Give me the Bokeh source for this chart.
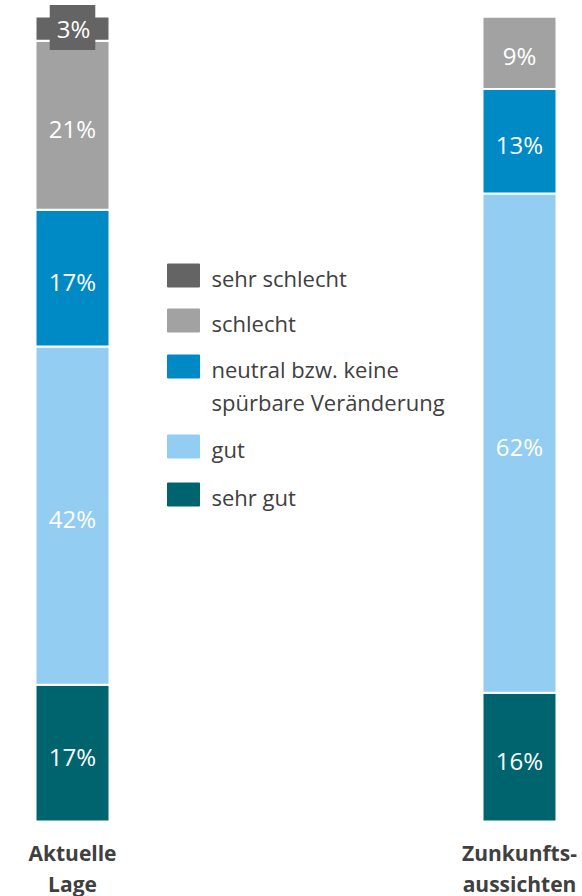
from bokeh.plotting import figure
from bokeh.models import ColumnDataSource, Range1d
from bokeh.core.properties import value
from bokeh.embed import file_html
from bokeh.resources import INLINE

# ---- data ----
categories = ["Aktuelle\nLage", "Zunkunfts-\naussichten"]
series = ["sehr gut", "gut", "neutral bzw. keine\nspürbare Veränderung", "schlecht", "sehr schlecht"]
sehr_gut = [17, 16]
gut = [42, 62]
neutral = [17, 13]
schlecht = [21, 9]
sehr_schlecht = [3, 0]
colors = ["#00646f", "#93cdf1", "#008ac5", "#a2a2a2", "#646464"]

FONT = "Open Sans"
W, H = 582, 896
# layout: pixel scale of the frame
PXX = 447.0     # pixels per category step
X0 = 72.0       # pixel of category 0 inside the frame
PXY = 8.05      # pixels per percent
YB = 821.0      # pixel (from top of frame) of value 0

def fx(px):  # frame pixel -> data x
    return (px - X0) / PXX

def fy(py):  # frame pixel (from top) -> data y
    return (YB - py) / PXY

p = figure(width=W, height=H, output_backend="svg", toolbar_location=None,
           x_range=Range1d(fx(0), fx(W)), y_range=Range1d(fy(H), fy(0)),
           min_border=0, min_border_left=0, min_border_right=0,
           min_border_top=0, min_border_bottom=0)
p.axis.visible = False
p.xgrid.visible = False
p.ygrid.visible = False
p.outline_line_color = None
p.background_fill_color = "white"
p.border_fill_color = "white"

keys = ["sehr_gut", "gut", "neutral", "schlecht", "sehr_schlecht"]
vals = [sehr_gut, gut, neutral, schlecht, sehr_schlecht]
src = ColumnDataSource(dict(x=list(range(len(categories))),
                            **{k: v for k, v in zip(keys, vals)}))
p.vbar_stack(keys, x="x", width=74 / PXX, source=src, color=colors,
             line_color="white", line_width=2)

# value labels
lx, ly, lt, sx, sy, st = [], [], [], [], [], []
for i in range(len(categories)):
    base = 0
    for v in vals:
        val = v[i]
        if val > 0:
            mid = base + val / 2
            if val < 5:
                sx.append(i); sy.append(mid); st.append(f"{val}%")
            else:
                lx.append(i); ly.append(mid); lt.append(f"{val}%")
        base += val
p.text(x=lx, y=ly, text=lt, text_align="center", text_baseline="middle",
       text_font=value(FONT), text_font_size="24px", text_color="white", y_offset=3)
p.text(x=sx, y=sy, text=st, text_align="center", text_baseline="middle",
       text_font=value(FONT), text_font_size="24px", text_color="white", y_offset=-1,
       background_fill_color="#646464", padding=[7, 5, 7, 5])

# category labels
cx, cy, ct, co = [], [], [], []
for i, c in enumerate(categories):
    for j, line in enumerate(c.split("\n")):
        cx.append(i); cy.append(0); ct.append(line); co.append(31 + j * 31)
p.text(x=cx, y=cy, text=ct, y_offset=co, text_align="center", text_baseline="middle",
       text_font=value(FONT), text_font_size="21px", text_font_style="bold",
       text_color="#404040")

# legend (top to bottom: reversed series)
leg_py = [275, 320, 366, 446, 494]
leg_series = series[::-1]
leg_colors = colors[::-1]
p.rect(x=[fx(183)] * 5, y=[fy(v) for v in leg_py], width=32, height=23,
       width_units="screen", height_units="screen", color=leg_colors)
tx, ty, tt = [], [], []
for py, s in zip(leg_py, leg_series):
    for j, line in enumerate(s.split("\n")):
        tx.append(fx(211)); ty.append(fy(py + 2 + j * 33)); tt.append(line)
p.text(x=tx, y=ty, text=tt, text_align="left", text_baseline="middle",
       text_font=value(FONT), text_font_size="22px", text_color="#404040")

open("out.html", "w").write(file_html(p, INLINE))
